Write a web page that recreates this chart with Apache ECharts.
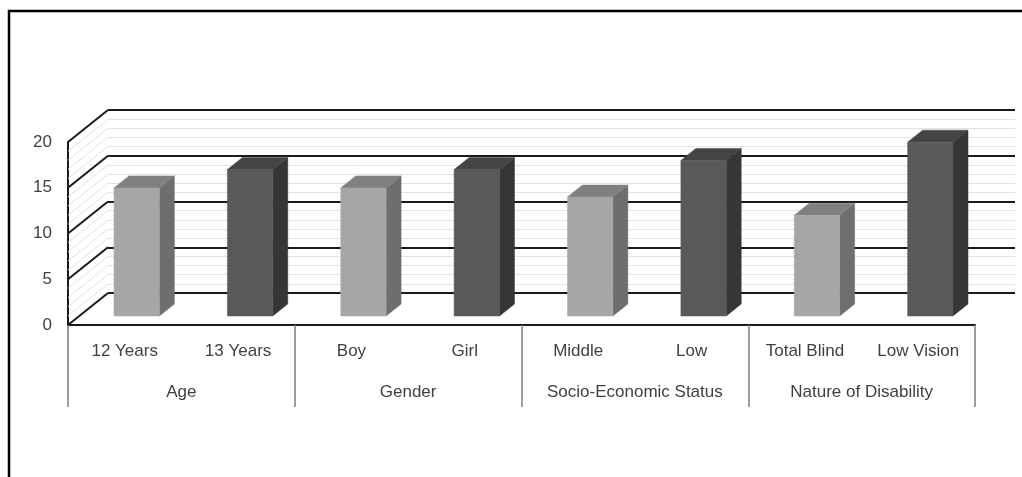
<!DOCTYPE html>
<html>
<head>
<meta charset="utf-8">
<script src="https://cdn.jsdelivr.net/npm/echarts@6/dist/echarts.min.js"></script>
<style>
  html, body { margin: 0; padding: 0; background: #fff; }
  #main { width: 1022px; height: 477px; }
</style>
</head>
<body>
<div id="main"></div>
<script>
var categories = ['12 Years', '13 Years', 'Boy', 'Girl', 'Middle', 'Low', 'Total Blind', 'Low Vision'];
var groups = ['Age', 'Gender', 'Socio-Economic Status', 'Nature of Disability'];
var values = [14, 16, 14, 16, 13, 17, 11, 19];

// oblique 3d look: back wall is the front plane moved by (DX, DY)
var DX = 40, DY = -32;
var FONT = '"Liberation Sans", Arial, sans-serif';

var lightFace = ['#a6a6a6', '#6e6e6e', '#808080'];   // front, side, top
var darkFace = ['#595959', '#363636', '#444444'];

function face(fill) {
  return { fill: fill, stroke: fill, lineWidth: 0.5, opacity: 1 };
}

function renderBar(params, api) {
  var i = api.value(0);
  var base = api.coord([i, 0]);
  var top = api.coord([i, api.value(1)]);
  var w = api.size([1, 0])[0] * 0.4;
  var x0 = base[0] - w / 2 + 12, x1 = x0 + w;
  var yb = base[1] - 9, yt = top[1] - 9;
  var dx = 15, dy = -12;
  var c = i % 2 === 0 ? lightFace : darkFace;
  return {
    type: 'group',
    children: [
      { type: 'polygon', shape: { points: [[x1, yt], [x1 + dx, yt + dy], [x1 + dx, yb + dy], [x1, yb]] }, style: face(c[1]) },
      { type: 'polygon', shape: { points: [[x0, yt], [x0 + dx, yt + dy], [x1 + dx, yt + dy], [x1, yt]] }, style: face(c[2]) },
      { type: 'rect', shape: { x: x0, y: yt, width: w, height: yb - yt }, style: face(c[0]) }
    ]
  };
}

// side wall: diagonal lines joining the front axis to the back wall
function renderSideWall(params, api) {
  var half = api.size([1, 0])[0] / 2;
  var kids = [];
  for (var v = 0; v <= 20; v++) {
    var p = api.coord([0, v]);
    var x = p[0] - half;
    var major = v % 5 === 0;
    kids.push({
      type: 'line',
      z2: major ? 2 : 1,
      shape: { x1: x, y1: p[1], x2: x + DX, y2: p[1] + DY },
      style: { stroke: major ? '#1a1a1a' : '#e3e3e3', lineWidth: major ? 2 : 1 }
    });
  }
  return { type: 'group', children: kids };
}

var chart = echarts.init(document.getElementById('main'));
chart.setOption({
  backgroundColor: '#fff',
  animation: false,
  graphic: [
    { type: 'rect', shape: { x: 9, y: 11, width: 1100, height: 600 }, style: { fill: null, stroke: '#000', lineWidth: 2.5 }, silent: true }
  ],
  grid: [
    { left: 68, top: 142, width: 907, height: 183 },
    { left: 68 + DX, top: 142 + DY, width: 907, height: 183 }
  ],
  xAxis: [
    {
      type: 'category', gridIndex: 0, data: categories,
      axisLine: { lineStyle: { color: '#1a1a1a', width: 2 } },
      axisTick: { show: false },
      axisLabel: { margin: 18, fontSize: 17, color: '#404040', fontFamily: FONT, interval: 0 }
    },
    {
      type: 'category', gridIndex: 0, data: groups, position: 'bottom',
      axisLine: { show: false },
      axisTick: { show: true, length: 82, lineStyle: { color: '#808080', width: 1.5 } },
      axisLabel: { margin: 59, fontSize: 17, color: '#404040', fontFamily: FONT, interval: 0 }
    },
    {
      type: 'category', gridIndex: 1, data: categories, show: false
    }
  ],
  yAxis: [
    {
      type: 'value', gridIndex: 0, min: 0, max: 20, interval: 5,
      axisLine: { show: true, lineStyle: { color: '#1a1a1a', width: 2 } },
      axisTick: { show: false },
      splitLine: { show: false },
      axisLabel: { margin: 16, fontSize: 17, color: '#404040', fontFamily: FONT, padding: [6, 0, 0, 0] }
    },
    {
      type: 'value', gridIndex: 1, min: 0, max: 20, interval: 5,
      axisLine: { show: false }, axisTick: { show: false }, axisLabel: { show: false },
      splitLine: { show: true, lineStyle: { color: '#1a1a1a', width: 2 } },
      minorTick: { show: false, splitNumber: 5 },
      minorSplitLine: { show: true, lineStyle: { color: '#e3e3e3', width: 1 } }
    }
  ],
  series: [
    {
      type: 'custom', xAxisIndex: 0, yAxisIndex: 0, z: 3,
      renderItem: renderSideWall,
      data: [[0, 0]],
      silent: true
    },
    {
      type: 'custom', xAxisIndex: 0, yAxisIndex: 0, z: 5,
      renderItem: renderBar,
      encode: { x: 0, y: 1 },
      data: values.map(function (v, i) { return [i, v]; })
    }
  ]
});
</script>
</body>
</html>
